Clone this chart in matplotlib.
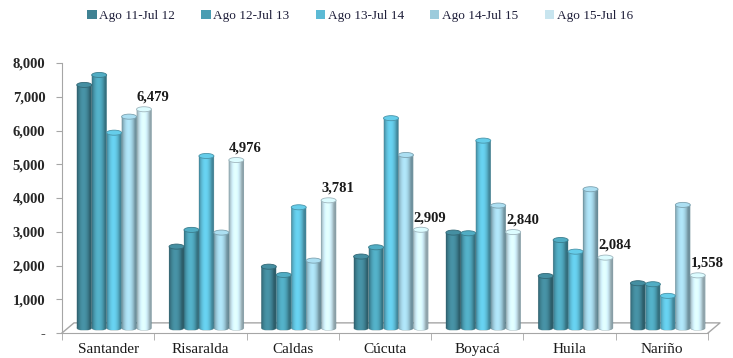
import numpy as np
import matplotlib
matplotlib.use("Agg")
import matplotlib.pyplot as plt
from matplotlib.patches import Ellipse, Patch
from matplotlib.path import Path
from matplotlib.colors import to_rgb

plt.rcParams['font.family'] = ['Liberation Serif', 'DejaVu Serif']

regions = ['Santander', 'Risaralda', 'Caldas', 'Cúcuta', 'Boyacá', 'Huila', 'Nariño']
periods = ['Ago 11-Jul 12', 'Ago 12-Jul 13', 'Ago 13-Jul 14', 'Ago 14-Jul 15', 'Ago 15-Jul 16']
s1 = [7200, 2410, 1815, 2115, 2825, 1540, 1325]
s2 = [7495, 2905, 1570, 2390, 2805, 2605, 1295]
s3 = [5785, 5095, 3575, 6215, 5550, 2260, 950]
s4 = [6260, 2825, 1995, 5125, 3625, 4110, 3645]
s5 = [6479, 4976, 3781, 2909, 2840, 2084, 1558]
series = [s1, s2, s3, s4, s5]
colors = ['#3f8293', '#4a9db2', '#5cbad5', '#9ccbdc', '#c8e5ef']
yticks = [0, 1000, 2000, 3000, 4000, 5000, 6000, 7000, 8000]

fig = plt.figure(figsize=(7.33, 3.58), dpi=100)
ax = fig.add_axes([62 / 733, 25 / 358, 646 / 733, 270 / 358])
ax.set_xlim(-0.5, 6.5)
ax.set_ylim(0, 8000)

w = 0.162
dx = 0.065   # depth shift of the bars (3D look)
dy = 150
eh = 150     # ellipse height of cylinder caps
x = np.arange(len(regions))


def shade(base, n=60):
    t = np.linspace(0, 1, n)
    f = 0.72 + 0.42 * np.sin(np.pi * np.clip(t * 1.15, 0, 1)) ** 0.8
    rgb = np.array(to_rgb(base))
    arr = np.clip(rgb[None, :] * f[:, None], 0, 1)
    return arr[None, :, :]


for i, (vals, col) in enumerate(zip(series, colors)):
    xs = x + (i - 2) * w + dx
    img = shade(col)
    for xc, v in zip(xs, vals):
        x0, x1 = xc - w / 2, xc + w / 2
        top = v + dy
        th = np.linspace(np.pi, 2 * np.pi, 30)
        verts = [(xc + w / 2 * np.cos(a), dy + eh / 2 * np.sin(a)) for a in th]
        verts += [(x1, top), (x0, top), verts[0]]
        clip = Path(verts, closed=True)
        im = ax.imshow(img, extent=[x0, x1, dy - eh / 2, top], aspect='auto',
                       interpolation='bilinear', zorder=3)
        im.set_clip_path(clip, ax.transData)
        ax.plot([p[0] for p in verts], [p[1] for p in verts], color='#2f5f6a',
                lw=0.3, alpha=0.5, zorder=3)
        capc = np.clip(np.array(to_rgb(col)) * 1.1, 0, 1)
        ax.add_patch(Ellipse((xc, top), w, eh, facecolor=capc,
                             edgecolor=np.array(to_rgb(col)) * 0.8, lw=0.6, zorder=4))
    if i == 4:
        for xc, v in zip(xs, vals):
            ax.text(xc + 0.1, v + dy + 170, f'{v:,}', ha='center', va='bottom',
                    fontsize=10.5, fontweight='bold', color='#1a1a1a', zorder=5)

# floor in perspective
gx, gy = 0.13, 300
grey = '#a6a6a6'
ax.plot([-0.5, -0.5 + gx, 6.5 + gx, 6.5], [0, gy, gy, 0], color=grey, lw=1,
        zorder=2, clip_on=False)

for s in ['top', 'right']:
    ax.spines[s].set_visible(False)
ax.spines['left'].set_color(grey)
ax.spines['bottom'].set_color(grey)

ax.set_yticks(yticks)
ax.set_yticklabels(['-'] + [f'{t:,}' for t in yticks[1:]])
ax.tick_params(axis='y', length=4, color=grey, pad=8, labelsize=10.5, labelcolor='#262626')
for lab in ax.get_yticklabels():
    lab.set_fontweight('bold')

ax.set_xticks(x)
ax.set_xticklabels(regions)
ax.set_xticks(np.arange(-0.5, 7, 1), minor=True)
ax.tick_params(axis='x', which='major', length=0, pad=7, labelsize=11, labelcolor='#1a1a1a')
ax.tick_params(axis='x', which='minor', length=5, color=grey)

handles = [Patch(facecolor=c, edgecolor='none') for c in colors]
fig.legend(handles, periods, loc='center', bbox_to_anchor=(360 / 733, 1 - 16 / 358),
           ncol=5, frameon=False, handlelength=0.7, handleheight=0.75, handletextpad=0.2,
           columnspacing=2.0, prop={'size': 9.5}, labelcolor='#1f1f3a')

fig.savefig('out.png', dpi=100)
